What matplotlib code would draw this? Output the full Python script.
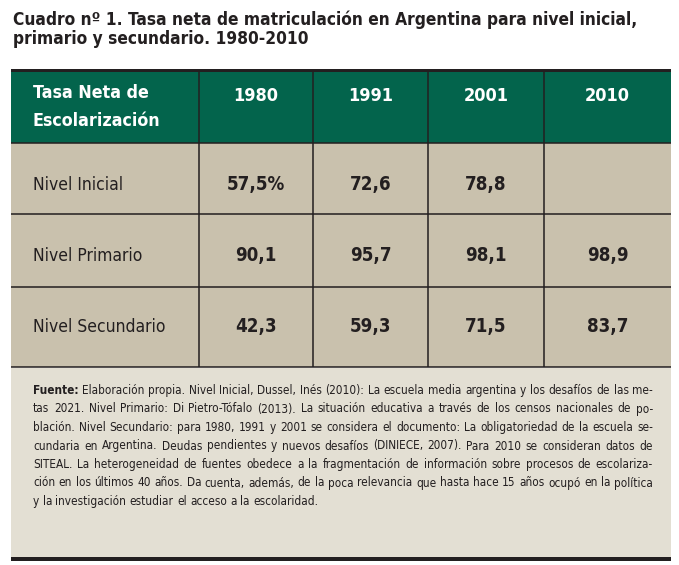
import matplotlib
matplotlib.use("Agg")
import matplotlib.pyplot as plt
from matplotlib import font_manager
from matplotlib.patches import Rectangle

# Datos del cuadro
title_lines = ["Cuadro nº 1. Tasa neta de matriculación en Argentina para nivel inicial,",
               "primario y secundario. 1980-2010"]
header_label = ["Tasa Neta de", "Escolarización"]
years = ["1980", "1991", "2001", "2010"]
levels = ["Nivel Inicial", "Nivel Primario", "Nivel Secundario"]
values = [["57,5%", "72,6", "78,8", ""],
          ["90,1", "95,7", "98,1", "98,9"],
          ["42,3", "59,3", "71,5", "83,7"]]
source_lines = [
    "Elaboración propia. Nivel Inicial, Dussel, Inés (2010): La escuela media argentina y los desafíos de las me-",
    "tas 2021. Nivel Primario: Di Pietro-Tófalo (2013). La situación educativa a través de los censos nacionales de po-",
    "blación. Nivel Secundario: para 1980, 1991 y 2001 se considera el documento: La obligatoriedad de la escuela se-",
    "cundaria en Argentina. Deudas pendientes y nuevos desafíos (DINIECE, 2007). Para 2010 se consideran datos de",
    "SITEAL. La heterogeneidad de fuentes obedece a la fragmentación de información sobre procesos de escolariza-",
    "ción en los últimos 40 años. Da cuenta, además, de la poca relevancia que hasta hace 15 años ocupó en la política",
    "y la investigación estudiar el acceso a la escolaridad.",
]

# fuente estrecha si existe
names = {f.name for f in font_manager.fontManager.ttflist}
if "Liberation Sans Narrow" in names:
    FONT = dict(family="Liberation Sans Narrow")
else:
    FONT = dict(family="DejaVu Sans", stretch="condensed")

GREEN = "#03644c"
TAN = "#c9c1ad"
LIGHT = "#e3dfd3"
DARK = "#231f20"

# layout en pixeles
col_edges = [11, 199, 313, 428, 544, 671]
row_edges = [143, 214, 287, 367]
row_base = [190, 261, 332]

fig = plt.figure(figsize=(6.79, 5.65), dpi=100)
ax = fig.add_axes([0, 0, 1, 1])
ax.set_xlim(0, 679)
ax.set_ylim(565, 0)
ax.axis("off")
renderer = fig.canvas.get_renderer()


def width(t):
    return t.get_window_extent(renderer).width


def fit(s, target, bold=False, extra=1.0):
    # tamaño de letra para que s ocupe target pixeles
    t = ax.text(0, 0, s, fontsize=10, weight="bold" if bold else "normal", **FONT)
    w = width(t)
    t.remove()
    return 10 * target / w * extra


# titulo
tsize = fit(title_lines[0], 622, bold=True)
ax.text(13, 25, title_lines[0], fontsize=tsize, weight="bold", color=DARK, va="baseline", **FONT)
ax.text(13, 43.5, title_lines[1], fontsize=tsize, weight="bold", color=DARK, va="baseline", **FONT)

# cabecera
ax.add_patch(Rectangle((col_edges[0], 72), col_edges[-1] - col_edges[0], 71, color=GREEN, lw=0))
ax.add_patch(Rectangle((col_edges[0], 69), col_edges[-1] - col_edges[0], 3, color=DARK, lw=0))
hsize = fit(header_label[1], 122, bold=True, extra=1.04)
ax.text(33, 98, header_label[0], fontsize=hsize, weight="bold", color="white", va="baseline", **FONT)
ax.text(33, 126, header_label[1], fontsize=hsize, weight="bold", color="white", va="baseline", **FONT)
ysize = fit("2001", 42, bold=True, extra=1.08)
for i, y in enumerate(years):
    cx = (col_edges[i + 1] + col_edges[i + 2]) / 2
    ax.text(cx, 101, y, fontsize=ysize, weight="bold", color="white", ha="center", va="baseline", **FONT)

# cuerpo
ax.add_patch(Rectangle((col_edges[0], row_edges[0]), col_edges[-1] - col_edges[0],
                       row_edges[-1] - row_edges[0], color=TAN, lw=0))
lsize = fit("Nivel Secundario", 126, extra=1.05)
vsize = fit("57,5%", 54, bold=True, extra=1.08)
for r, lev in enumerate(levels):
    ax.text(33, row_base[r], lev, fontsize=lsize, color=DARK, va="baseline", **FONT)
    for c, v in enumerate(values[r]):
        cx = (col_edges[c + 1] + col_edges[c + 2]) / 2
        ax.text(cx, row_base[r], v, fontsize=vsize, weight="bold", color=DARK,
                ha="center", va="baseline", **FONT)

# lineas
for y in row_edges:
    ax.plot([col_edges[0], col_edges[-1]], [y, y], color=DARK, lw=1.1, solid_capstyle="butt")
for x in col_edges[1:-1]:
    ax.plot([x, x], [72, row_edges[-1]], color=DARK, lw=1.1, solid_capstyle="butt")

# fuente
ax.add_patch(Rectangle((col_edges[0], 368), col_edges[-1] - col_edges[0], 189, color=LIGHT, lw=0))
ax.add_patch(Rectangle((col_edges[0], 557), col_edges[-1] - col_edges[0], 4, color=DARK, lw=0))

x0, x1 = 33, 653
# el renglon mas largo (con "Fuente:" en el primero) debe caber en x0..x1
ssize = min(fit(("Fuente: " if i == 0 else "") + s, x1 - x0 - 4)
            for i, s in enumerate(source_lines[:-1]))
p2 = ax.text(0, 0, "a a", fontsize=ssize, **FONT)
p1 = ax.text(0, 0, "aa", fontsize=ssize, **FONT)
space = width(p2) - width(p1)
p1.remove()
p2.remove()

y0, dy = 394, 18.5
for i, line in enumerate(source_lines):
    y = y0 + i * dy
    words = line.split(" ")
    items = []
    if i == 0:
        items.append(ax.text(0, y, "Fuente:", fontsize=ssize, weight="bold", color=DARK,
                             va="baseline", **FONT))
    for w in words:
        items.append(ax.text(0, y, w, fontsize=ssize, color=DARK, va="baseline", **FONT))
    ws = [width(t) for t in items]
    if i < len(source_lines) - 1:
        gap = (x1 - x0 - sum(ws)) / (len(items) - 1)
    else:
        gap = space
    x = x0
    for t, w in zip(items, ws):
        t.set_x(x)
        x += w + gap

fig.savefig("out.png", dpi=100)
